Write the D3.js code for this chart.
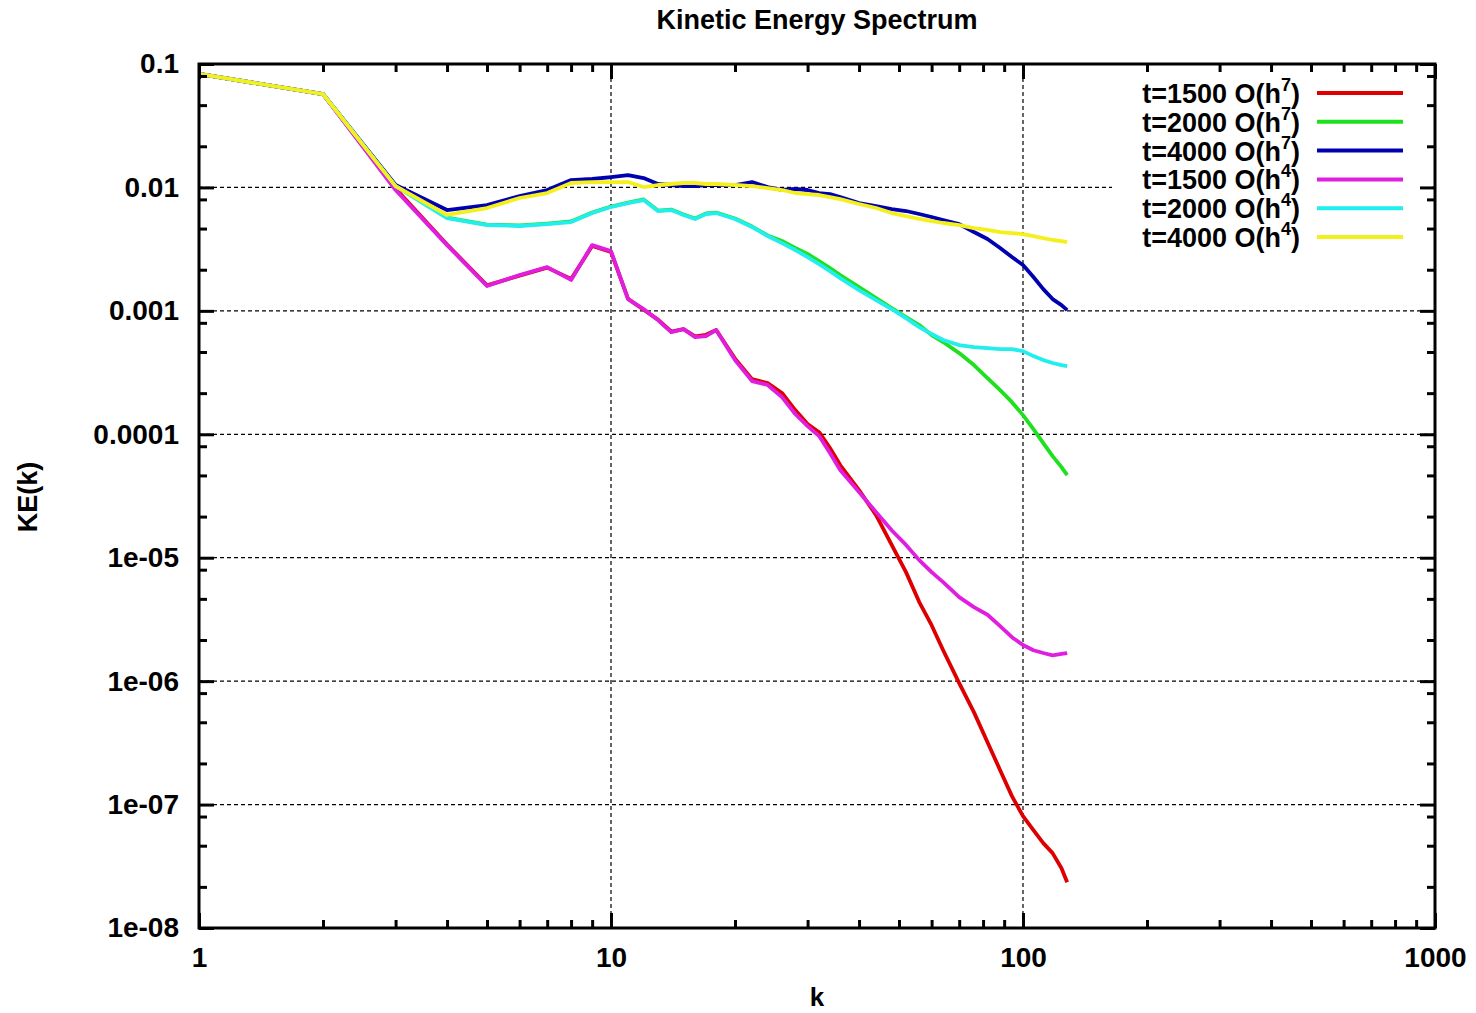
<!DOCTYPE html>
<html>
<head>
<meta charset="utf-8">
<script src="https://cdn.jsdelivr.net/npm/d3@7"></script>
<style>
  body { margin: 0; background: #fff; }
  text { font-family: "Liberation Sans", Arial, sans-serif; font-weight: bold; }
</style>
</head>
<body>
<svg id="chart"></svg>
<script>

// set svg params

var svgWidth = 1476, svgHeight = 1013;
var plotLeft = 199, plotRight = 1435, plotTop = 64, plotBottom = 928;

// data

var kValues = [1,2,3,4,5,6,7,8,9,10,11,12,13,14,15,16,17,18,20,22,24,26,28,30,32,34,36,40,44,48,52,56,60,64,70,76,82,88,94,100,106,112,118,124,128];

var ke1500h7 = [0.083,0.0571,0.0098,0.00345,0.00161,0.00193,0.00224,0.00181,0.00335,0.00300,0.00125,0.00102,0.00085,0.00068,0.00071,0.00062,0.00064,0.00070,0.00041,0.00028,0.00026,
  0.000216,0.000157,0.000121,0.000104,7.73e-5,5.63e-5,3.53e-5,2.21e-5,1.27e-5,7.64e-6,4.37e-6,2.84e-6,1.78e-6,9.63e-7,5.61e-7,3.2e-7,1.9e-7,1.17e-7,8.05e-8,6.2e-8,4.87e-8,4.04e-8,3.05e-8,2.35e-8];
var ke2000h7 = [0.083,0.0571,0.0104,0.0057,0.00500,0.00492,0.00510,0.00530,0.00625,0.00700,0.00752,0.0080,0.00650,0.00662,0.00604,0.00560,0.00615,0.00626,0.00560,0.00482,0.00408,
  0.00368,0.00323,0.00289,0.00253,0.00222,0.00195,0.00156,0.00127,0.001054,0.000891,0.000767,0.000637,0.000559,0.000455,0.000364,0.000285,0.000228,0.000182,0.000143,0.00011,8.49e-5,6.66e-5,5.42e-5,4.67e-5];
var ke4000h7 = [0.083,0.0571,0.01046,0.00656,0.0072,0.00852,0.00953,0.01148,0.0117,0.01214,0.0126,0.01192,0.01066,0.01046,0.01026,0.01026,0.01046,0.01046,0.01046,0.01106,0.01007,
  0.00953,0.00971,0.00953,0.00901,0.00884,0.00836,0.00747,0.00707,0.00668,0.00644,0.00609,0.00576,0.00544,0.00505,0.00435,0.00382,0.00323,0.00273,0.00235,0.00188,0.0015,0.001246,0.001114,0.001015];
var ke1500h4 = [0.083,0.0571,0.00953,0.00341,0.00159,0.00195,0.00226,0.00178,0.00341,0.00305,0.001246,0.001034,0.000842,0.000673,0.000712,0.000613,0.000625,0.000699,0.000399,0.00027,0.000251,
  0.0002,0.000146,0.0001165,9.67e-5,7.04e-5,5.13e-5,3.4e-5,2.34e-5,1.67e-5,1.27e-5,9.56e-6,7.64e-6,6.34e-6,4.79e-6,3.98e-6,3.45e-6,2.79e-6,2.27e-6,1.96e-6,1.78e-6,1.69e-6,1.62e-6,1.66e-6,1.69e-6];
var ke2000h4 = [0.083,0.0571,0.01026,0.00565,0.00496,0.00487,0.00505,0.00524,0.0062,0.00694,0.00747,0.0079,0.00644,0.00656,0.00598,0.00555,0.00609,0.0062,0.00555,0.00478,0.00404,
  0.00354,0.00311,0.00273,0.00239,0.0021,0.00184,0.00147,0.001223,0.001034,0.000874,0.000739,0.000649,0.00058,0.000528,0.000509,0.000499,0.00049,0.00049,0.000472,0.00043,0.000399,0.000378,0.000364,0.000357];
var ke4000h4 = [0.083,0.0571,0.01026,0.00598,0.00681,0.00821,0.00901,0.01086,0.01106,0.01106,0.01106,0.01007,0.01046,0.01066,0.01086,0.01086,0.01066,0.01066,0.01046,0.01026,0.00989,
  0.00953,0.00901,0.00884,0.00868,0.00836,0.00805,0.00734,0.00681,0.0062,0.00586,0.00555,0.00534,0.00515,0.00496,0.00469,0.00452,0.00435,0.00427,0.00419,0.00404,0.00389,0.00375,0.00368,0.00361];

var seriesValues = [ke1500h7, ke2000h7, ke4000h7, ke1500h4, ke2000h4, ke4000h4];
var seriesTimes = [1500, 2000, 4000, 1500, 2000, 4000];
var seriesOrders = ["7", "7", "7", "4", "4", "4"];
var colors = ["#de0000", "#1ee01e", "#0000b0", "#e01ee0", "#22eeee", "#f4f01e"];

var xTicks = [1, 10, 100, 1000];
var xTickLabels = ["1", "10", "100", "1000"];
var yTicks = [1e-8, 1e-7, 1e-6, 1e-5, 1e-4, 1e-3, 1e-2, 1e-1];
var yTickLabels = ["1e-08", "1e-07", "1e-06", "1e-05", "0.0001", "0.001", "0.01", "0.1"];

var xMinor = [], yMinor = [];
[1, 10, 100].forEach(function (d) {
  for (var m = 2; m <= 9; m++) xMinor.push(d * m);
});
yTicks.slice(0, 7).forEach(function (d) {
  [2.154, 4.642, 8].forEach(function (m) { yMinor.push(d * m); });
});

// scales

var xScale = d3.scaleLog().domain([1, 1000]).range([plotLeft, plotRight]);
var yScale = d3.scaleLog().domain([1e-8, 0.1]).range([plotBottom, plotTop]);

var svg = d3.select("#chart")
    .attr("width", svgWidth)
    .attr("height", svgHeight);

// grid

svg.append("g")
    .selectAll("line")
    .data([10, 100])
    .enter()
    .append("line")
    .attr("x1", function (d) { return xScale(d); })
    .attr("x2", function (d) { return xScale(d); })
    .attr("y1", plotTop)
    .attr("y2", plotBottom)
    .attr("stroke", "#000")
    .attr("stroke-width", 1.2)
    .attr("stroke-dasharray", "4,3");

svg.append("g")
    .selectAll("line")
    .data(yTicks.slice(1, 7))
    .enter()
    .append("line")
    .attr("x1", plotLeft)
    .attr("x2", plotRight)
    .attr("y1", function (d) { return yScale(d); })
    .attr("y2", function (d) { return yScale(d); })
    .attr("stroke", "#000")
    .attr("stroke-width", 1.2)
    .attr("stroke-dasharray", "4,3");

// curves

var line = d3.line()
    .x(function (d) { return xScale(d[0]); })
    .y(function (d) { return yScale(d[1]); });

svg.append("g")
    .selectAll("path")
    .data(seriesValues)
    .enter()
    .append("path")
    .attr("d", function (vals) {
      return line(vals.map(function (v, i) { return [kValues[i], v]; }));
    })
    .attr("fill", "none")
    .attr("stroke", function (d, i) { return colors[i]; })
    .attr("stroke-width", 3.8)
    .attr("stroke-linejoin", "round");

// legend

var legend = svg.append("g");

legend.append("rect")
    .attr("x", 1112)
    .attr("y", 72)
    .attr("width", 320)
    .attr("height", 184)
    .attr("fill", "#fff");

var rows = legend.selectAll("g.row")
    .data(seriesTimes)
    .enter()
    .append("g")
    .attr("class", "row")
    .attr("transform", function (d, i) { return "translate(0," + (93 + i * 28.8) + ")"; });

rows.append("line")
    .attr("x1", 1317)
    .attr("x2", 1403)
    .attr("y1", 0)
    .attr("y2", 0)
    .attr("stroke", function (d, i) { return colors[i]; })
    .attr("stroke-width", 4);

var label = rows.append("text")
    .attr("x", 1300)
    .attr("y", 10)
    .attr("text-anchor", "end")
    .attr("font-size", 27);
label.append("tspan").text(function (d) { return "t=" + d + " O(h"; });
label.append("tspan")
    .attr("dy", -12)
    .attr("font-size", 18)
    .text(function (d, i) { return seriesOrders[i]; });
label.append("tspan")
    .attr("dy", 12)
    .text(")");

// axes

function styleAxis(g) {
  g.select(".domain").remove();
  g.selectAll(".tick line").attr("stroke", "#000").attr("stroke-width", 3);
  g.selectAll(".tick text")
    .attr("font-family", "'Liberation Sans', Arial, sans-serif")
    .attr("font-weight", "bold")
    .attr("font-size", 28)
    .attr("fill", "#000");
}

svg.append("g")
    .attr("transform", "translate(0," + plotBottom + ")")
    .call(d3.axisBottom(xScale).tickValues(xTicks).tickSize(-15).tickPadding(19)
      .tickFormat(function (d, i) { return xTickLabels[i]; }))
    .call(styleAxis);
svg.append("g")
    .attr("transform", "translate(0," + plotBottom + ")")
    .call(d3.axisBottom(xScale).tickValues(xMinor).tickSize(-8).tickFormat(""))
    .call(styleAxis);
svg.append("g")
    .attr("transform", "translate(0," + plotTop + ")")
    .call(d3.axisTop(xScale).tickValues(xTicks).tickSize(-15).tickFormat(""))
    .call(styleAxis);
svg.append("g")
    .attr("transform", "translate(0," + plotTop + ")")
    .call(d3.axisTop(xScale).tickValues(xMinor).tickSize(-8).tickFormat(""))
    .call(styleAxis);

svg.append("g")
    .attr("transform", "translate(" + plotLeft + ",0)")
    .call(d3.axisLeft(yScale).tickValues(yTicks).tickSize(-15).tickPadding(20)
      .tickFormat(function (d, i) { return yTickLabels[i]; }))
    .call(styleAxis);
svg.append("g")
    .attr("transform", "translate(" + plotLeft + ",0)")
    .call(d3.axisLeft(yScale).tickValues(yMinor).tickSize(-8).tickFormat(""))
    .call(styleAxis);
svg.append("g")
    .attr("transform", "translate(" + plotRight + ",0)")
    .call(d3.axisRight(yScale).tickValues(yTicks).tickSize(-15).tickFormat(""))
    .call(styleAxis);
svg.append("g")
    .attr("transform", "translate(" + plotRight + ",0)")
    .call(d3.axisRight(yScale).tickValues(yMinor).tickSize(-8).tickFormat(""))
    .call(styleAxis);

// frame

svg.append("rect")
    .attr("x", plotLeft)
    .attr("y", plotTop)
    .attr("width", plotRight - plotLeft)
    .attr("height", plotBottom - plotTop)
    .attr("fill", "none")
    .attr("stroke", "#000")
    .attr("stroke-width", 3);

// titles

svg.append("text")
    .attr("x", 817)
    .attr("y", 29)
    .attr("text-anchor", "middle")
    .attr("font-size", 27)
    .text("Kinetic Energy Spectrum");

svg.append("text")
    .attr("x", 817)
    .attr("y", 1006)
    .attr("text-anchor", "middle")
    .attr("font-size", 26)
    .text("k");

svg.append("text")
    .attr("transform", "translate(37,497) rotate(-90)")
    .attr("text-anchor", "middle")
    .attr("font-size", 27)
    .text("KE(k)");

</script>
</body>
</html>
